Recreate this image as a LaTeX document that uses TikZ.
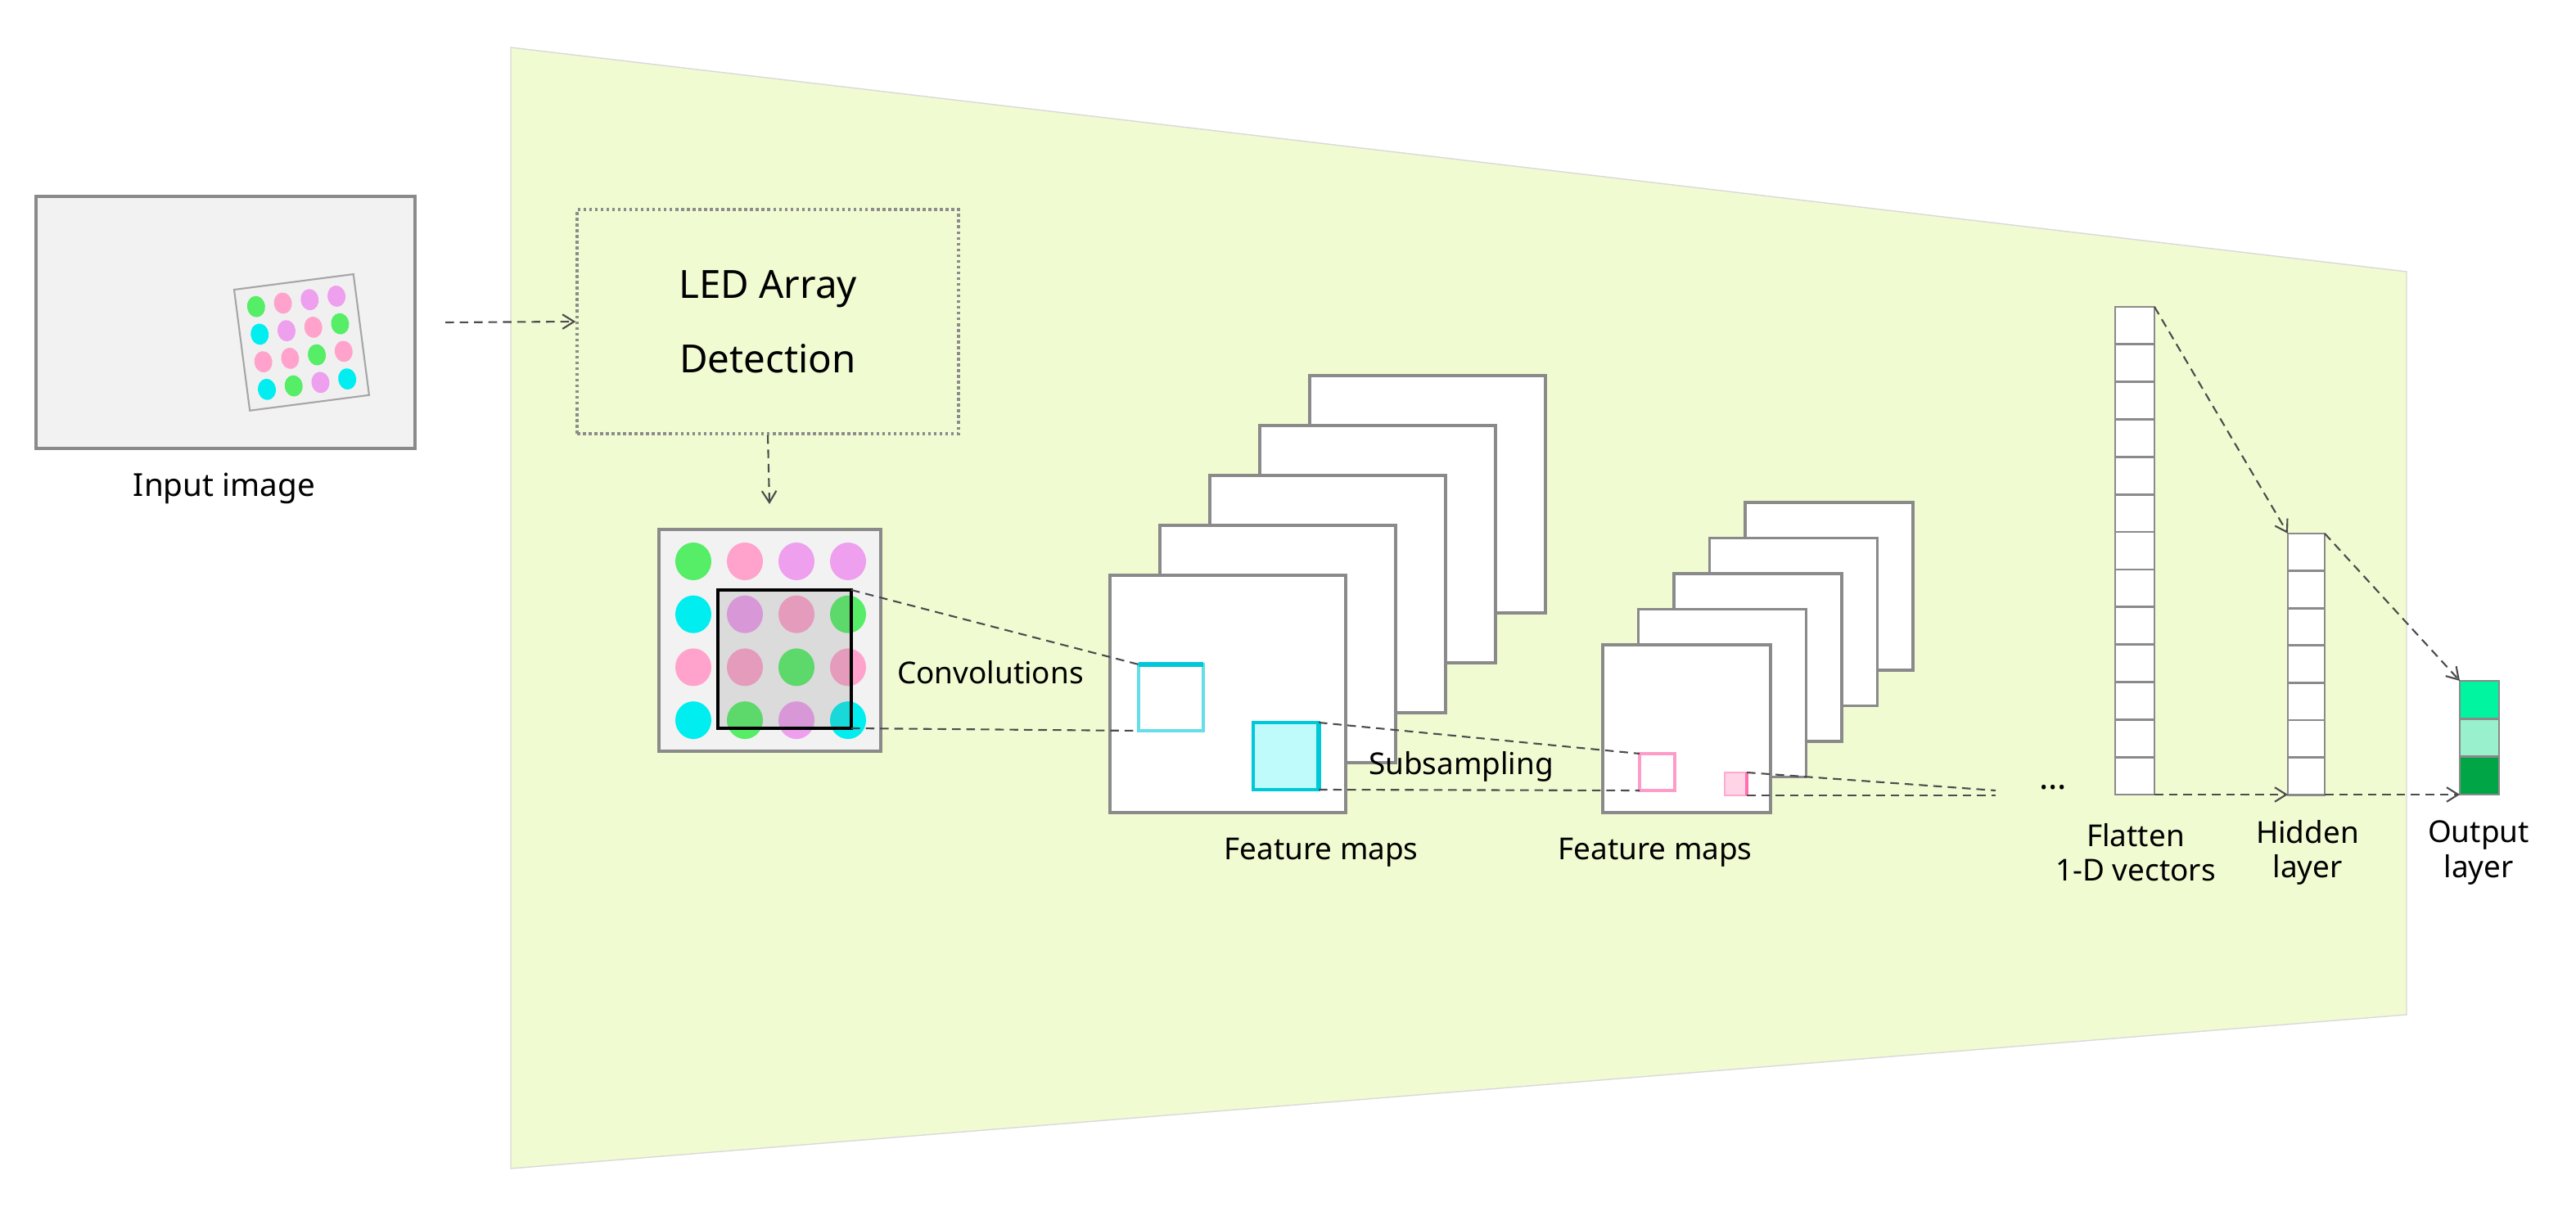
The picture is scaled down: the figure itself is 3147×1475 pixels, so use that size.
\documentclass[tikz,border=0pt]{standalone}
\usepackage{fontspec}
\setmainfont{Noto Sans}
\usetikzlibrary{arrows.meta}
\definecolor{bgc}{HTML}{F1FBD2}
\definecolor{ledg}{HTML}{55EE66}
\definecolor{ledp}{HTML}{FFA3CC}
\definecolor{ledv}{HTML}{EE9FEE}
\definecolor{ledc}{HTML}{00EEF0}
\definecolor{bord}{HTML}{8A8A8A}
\definecolor{cyanf}{HTML}{00C8D8}
\definecolor{pinkf}{HTML}{FF70B0}
\definecolor{out1}{HTML}{00F5A0}
\definecolor{out2}{HTML}{99F0CC}
\definecolor{out3}{HTML}{00A546}
\begin{document}
\begin{tikzpicture}[x=0.1mm,y=-0.1mm,
  box/.style={draw=bord,line width=0.9pt,fill=white},
  conn/.style={densely dashed,line width=0.6pt,draw=black!70},
  arr/.style={conn,-{Straight Barb[length=4pt,width=5pt]}},
  lbl/.style={font=\fontsize{10.5}{12}\selectfont,align=center,inner sep=0pt},
  cell/.style={draw=bord,line width=0.8pt,fill=white}]
\useasboundingbox (0,0) rectangle (3147,1475);
% background trapezoid
\fill[bgc,draw=black!15,line width=0.4pt] (624,58) -- (2940,332) -- (2940,1240) -- (624,1428) -- cycle;
% input image
\draw[fill=black!5,draw=bord,line width=1pt] (44,240) rectangle (507,548);
\begin{scope}[shift={(286,354)},rotate=7.4]
  \draw[fill=black!6,draw=black!35,line width=0.6pt] (0,0) rectangle (147,149);
  \foreach \r/\cols in {0/{ledg,ledp,ledv,ledv},1/{ledc,ledv,ledp,ledg},2/{ledp,ledp,ledg,ledp},3/{ledc,ledg,ledv,ledc}}{
    \foreach \c [count=\i from 0] in \cols {
      \fill[\c] (24+\i*33,24+\r*34) ellipse (11 and 13);
    }
  }
\end{scope}
\node[lbl,font=\fontsize{11}{13}\selectfont] (inlbl) at (274,597) {Input image};
% LED detection box
\node[draw=black!45,densely dotted,line width=1pt,minimum width=466*0.1mm,minimum height=274*0.1mm,inner sep=0pt,
  font=\fontsize{13.5}{24}\selectfont,align=center] (det) at (938,393) {LED Array\\[2pt]Detection};
\coordinate (inR) at (544,394);
\draw[arr] (inR) -- (det.west);
% LED array
\draw[fill=black!5,draw=bord,line width=1pt] (805,647) rectangle (1076,918);
\coordinate (led) at (940,616);
\draw[arr] (det.south) -- (led);
\foreach \r/\cols in {0/{ledg,ledp,ledv,ledv},1/{ledc,ledv,ledp,ledg},2/{ledp,ledp,ledg,ledp},3/{ledc,ledg,ledv,ledc}}{
  \foreach \c [count=\i from 0] in \cols {
    \fill[\c] (847+\i*63,686+\r*64.7) ellipse (22 and 23);
  }
}
\draw[fill=black!50,fill opacity=0.2,draw=black,line width=1.1pt] (877,721) rectangle (1040,890);
\coordinate (kTR) at (1040,721);
\coordinate (kBR) at (1040,890);
\node[lbl] (convl) at (1210,822) {Convolutions};
% feature maps 1
\foreach \k in {4,3,2,1,0}{
  \draw[box] (1356+\k*61,703-\k*61) rectangle ++(288,290);
}
\draw[cyanf!60,line width=1pt] (1391,812) rectangle (1470,893);
\draw[cyanf,line width=1.6pt] (1391,812) -- (1470,812);
\coordinate (cTL) at (1391,812);
\coordinate (cBL) at (1391,893);
\draw[fill=ledc!25,draw=cyanf,line width=1pt] (1531,883) rectangle (1611,965);
\draw[cyanf,line width=1.6pt] (1611,883) -- (1611,965);
\coordinate (fTR) at (1611,883);
\coordinate (fBR) at (1611,965);
\node[lbl] (fm1) at (1614,1042) {Feature maps};
% feature maps 2
\foreach \k in {4,3,2,1,0}{
  \draw[box] (1958+\k*43.5,788-\k*43.5) rectangle ++(205,205);
}
\draw[pinkf!70,line width=1pt] (2003,921) rectangle (2046,966);
\coordinate (pTL) at (2003,921);
\coordinate (pBL) at (2003,966);
\draw[fill=pinkf!30,draw=pinkf!60,line width=0.8pt] (2107,944) rectangle (2134,972);
\draw[pinkf,line width=1.4pt] (2134,944) -- (2134,972);
\coordinate (qTR) at (2134,944);
\coordinate (qBR) at (2134,972);
\node[lbl] (fm2) at (2022,1042) {Feature maps};
\coordinate (e1) at (2438,966);
\coordinate (e2) at (2438,972);
% connectors
\draw[conn] (kTR) -- (cTL);
\draw[conn] (kBR) -- (cBL);
\draw[conn] (fTR) -- (pTL);
\draw[conn] (fBR) -- (pBL);
\draw[conn] (qTR) -- (e1);
\draw[conn] (qBR) -- (e2);
\node[lbl] (subl) at (1785,937) {Subsampling};
\node[font=\fontsize{12}{12}\selectfont,inner sep=0pt] (dots) at (2508,962) {...};
% flatten
\foreach \i in {0,...,12}{
  \draw[cell] (2584,375+\i*45.85) rectangle ++(48,45.85);
}
\coordinate (flTR) at (2632,375);
\coordinate (flBR) at (2632,971);
\node[lbl] (fl) at (2609,1042) {Flatten\\1-D vectors};
% hidden
\foreach \i in {0,...,6}{
  \draw[cell] (2795,652+\i*45.6) rectangle ++(45,45.6);
}
\coordinate (hTL) at (2795,652);
\coordinate (hTR) at (2840,652);
\coordinate (hBL) at (2795,971);
\coordinate (hBR) at (2840,971);
\node[lbl] (hl) at (2819,1042) {Hidden\\layer};
% output
\fill[out1] (3005,832) rectangle (3053,878.3);
\fill[out2] (3005,878.3) rectangle (3053,924.6);
\fill[out3] (3005,924.6) rectangle (3053,971);
\draw[draw=bord,line width=0.8pt] (3005,832) rectangle (3053,971) (3005,878.3) -- (3053,878.3) (3005,924.6) -- (3053,924.6);
\coordinate (oTL) at (3005,832);
\coordinate (oBL) at (3005,971);
\node[lbl] (ol) at (3028,1042) {Output\\layer};
\draw[arr] (flTR) -- (hTL);
\draw[arr] (flBR) -- (hBL);
\draw[arr] (hTR) -- (oTL);
\draw[arr] (hBR) -- (oBL);
\end{tikzpicture}
\end{document}
